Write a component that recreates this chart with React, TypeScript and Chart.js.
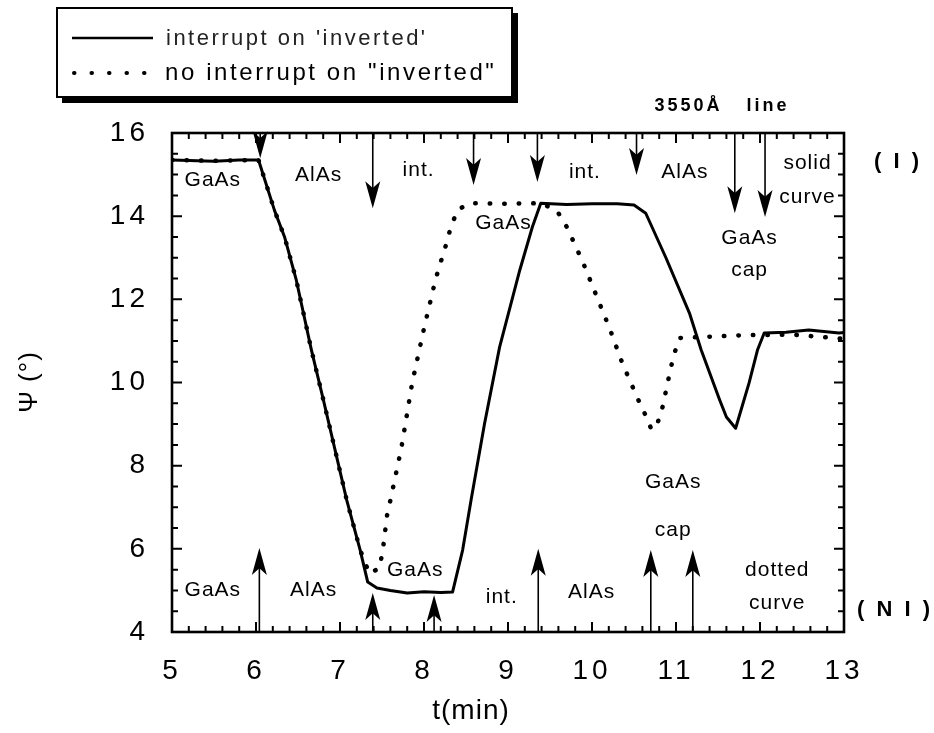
import React, { useEffect, useRef } from "react";
import { Chart, registerables } from "chart.js";

Chart.register(...registerables);

const FONT = '"Liberation Sans", Arial, Helvetica, sans-serif';

// Ellipsometric angle Ψ vs growth time, with interruption on the inverted interface
const solidT = [5.0, 5.5, 5.8, 6.03, 6.22, 6.34, 6.48, 6.66, 6.8, 6.95, 7.08, 7.24, 7.33, 7.44, 7.6, 7.8, 8.0, 8.2, 8.34, 8.46, 8.56, 8.72, 8.9, 9.14, 9.29, 9.39, 9.7, 10.0, 10.3, 10.5, 10.64, 10.88, 11.16, 11.3, 11.52, 11.6, 11.71, 11.87, 11.97, 12.05, 12.31, 12.58, 12.94, 13.0];
const solidPsi = [15.35, 15.32, 15.35, 15.35, 14.14, 13.5, 12.46, 10.78, 9.6, 8.3, 7.17, 5.97, 5.2, 5.06, 5.0, 4.94, 4.97, 4.95, 4.96, 5.97, 7.17, 9.0, 10.85, 12.7, 13.74, 14.31, 14.28, 14.3, 14.3, 14.27, 14.07, 13.0, 11.67, 10.78, 9.58, 9.17, 8.9, 9.99, 10.78, 11.19, 11.21, 11.26, 11.19, 11.2];

// Same sequence without interruption on the inverted interface
const dottedT = [5.0, 5.5, 6.03, 6.22, 6.34, 6.48, 6.66, 6.8, 6.95, 7.08, 7.24, 7.35, 7.47, 7.51, 7.56, 7.6, 7.73, 7.86, 8.0, 8.14, 8.26, 8.32, 8.4, 8.54, 9.0, 9.39, 9.58, 9.7, 9.89, 10.05, 10.21, 10.36, 10.54, 10.64, 10.71, 10.78, 10.84, 10.92, 10.97, 11.04, 11.4, 11.83, 12.4, 13.0];
const dottedPsi = [15.35, 15.33, 15.35, 14.14, 13.5, 12.46, 10.78, 9.6, 8.3, 7.17, 5.97, 5.4, 5.54, 5.97, 6.8, 7.17, 8.42, 10.0, 11.3, 12.5, 13.3, 13.74, 14.15, 14.31, 14.3, 14.31, 14.14, 13.74, 12.9, 12.1, 11.3, 10.47, 9.63, 9.2, 8.86, 9.02, 9.41, 10.18, 10.63, 11.07, 11.1, 11.14, 11.15, 11.05];

// Shutter events: arrows from the top frame (interrupted run) and bottom frame (uninterrupted run)
const topArrowT = [6.05, 7.39, 8.59, 9.35, 10.53, 11.7, 12.06];
const topArrowTip = [15.39, 14.19, 14.75, 14.82, 14.99, 14.07, 13.98];
const bottomArrowT = [6.04, 7.39, 8.12, 9.36, 10.7, 11.2];
const bottomArrowTip = [6.02, 4.94, 4.89, 6.0, 5.97, 5.97];

// Layer labels placed in data coordinates
const labelText = ["GaAs", "AlAs", "int.", "GaAs", "int.", "AlAs", "solid", "curve", "GaAs", "cap", "GaAs", "AlAs", "GaAs", "int.", "AlAs", "GaAs", "cap", "dotted", "curve"];
const labelT = [5.48, 6.74, 7.93, 8.94, 9.91, 11.1, 12.56, 12.56, 11.87, 11.87, 5.48, 6.68, 7.89, 8.92, 9.99, 10.96, 10.96, 12.2, 12.2];
const labelPsi = [14.87, 14.99, 15.11, 13.83, 15.06, 15.06, 15.27, 14.46, 13.47, 12.7, 5.0, 5.0, 5.49, 4.84, 4.96, 7.6, 6.45, 5.49, 4.7];

const xTicks = [5, 6, 7, 8, 9, 10, 11, 12, 13];
const yTicks = [4, 6, 8, 10, 12, 14, 16];

const legendLabels = ["interrupt on 'inverted'", 'no interrupt on "inverted"'];

function arrow(ctx: CanvasRenderingContext2D, x: number, from: number, tip: number) {
  const dir = tip > from ? 1 : -1;
  const headH = 27;
  const headW = 15;
  ctx.beginPath();
  ctx.moveTo(x, from);
  ctx.lineTo(x, tip - dir * headH * 0.6);
  ctx.lineWidth = 1.6;
  ctx.stroke();
  ctx.beginPath();
  ctx.moveTo(x, tip);
  ctx.lineTo(x - headW / 2, tip - dir * headH);
  ctx.lineTo(x, tip - dir * headH * 0.75);
  ctx.lineTo(x + headW / 2, tip - dir * headH);
  ctx.closePath();
  ctx.fill();
}

const spacedTicks = {
  id: "spacedTicks",
  beforeDraw(chart: any) {
    (chart.ctx as any).letterSpacing = "4px";
  },
};

const decorations = {
  id: "decorations",
  afterDraw(chart: any) {
    const ctx: CanvasRenderingContext2D = chart.ctx;
    const xs = chart.scales.x;
    const ys = chart.scales.y;
    const { left, right, top, bottom } = chart.chartArea;
    ctx.save();
    (ctx as any).letterSpacing = "0px";
    ctx.strokeStyle = "#000";
    ctx.fillStyle = "#000";
    ctx.lineCap = "butt";

    // frame
    ctx.lineWidth = 2.6;
    ctx.strokeRect(left, top, right - left, bottom - top);

    // inward ticks on all four sides
    ctx.lineWidth = 2;
    for (let i = 0; i <= 40; i++) {
      const v = 5 + i * 0.2;
      const px = xs.getPixelForValue(v);
      const len = i % 5 === 0 ? 10 : 6;
      ctx.beginPath();
      ctx.moveTo(px, bottom);
      ctx.lineTo(px, bottom - len);
      ctx.moveTo(px, top);
      ctx.lineTo(px, top + len);
      ctx.stroke();
    }
    for (let i = 0; i <= 24; i++) {
      const v = 4 + i * 0.5;
      const py = ys.getPixelForValue(v);
      const len = i % 4 === 0 ? 10 : 6;
      ctx.beginPath();
      ctx.moveTo(left, py);
      ctx.lineTo(left + len, py);
      ctx.moveTo(right, py);
      ctx.lineTo(right - len, py);
      ctx.stroke();
    }

    // event arrows
    topArrowT.forEach((t, i) => arrow(ctx, xs.getPixelForValue(t), top, ys.getPixelForValue(topArrowTip[i])));
    bottomArrowT.forEach((t, i) => arrow(ctx, xs.getPixelForValue(t), bottom, ys.getPixelForValue(bottomArrowTip[i])));

    // layer labels
    ctx.font = `21px ${FONT}`;
    (ctx as any).letterSpacing = "1px";
    ctx.textAlign = "center";
    ctx.textBaseline = "middle";
    labelText.forEach((s, i) => {
      ctx.fillText(s, xs.getPixelForValue(labelT[i]) + 0.5, ys.getPixelForValue(labelPsi[i]));
    });

    // run markers at the right
    ctx.font = `bold 22px ${FONT}`;
    (ctx as any).letterSpacing = "3px";
    ctx.textAlign = "left";
    ctx.fillText("( I )", right + 30, ys.getPixelForValue(15.3));
    ctx.fillText("( N I )", right + 13, ys.getPixelForValue(4.53));

    // spectral line note
    ctx.font = `bold 18px ${FONT}`;
    (ctx as any).letterSpacing = "3px";
    ctx.textAlign = "center";
    ctx.fillText("3550Å   line", 722, 106);

    // axis titles
    (ctx as any).letterSpacing = "1px";
    ctx.font = `28px ${FONT}`;
    ctx.fillText("t(min)", 471, 711);
    ctx.save();
    ctx.translate(30, 382);
    ctx.rotate(-Math.PI / 2);
    ctx.font = `26px ${FONT}`;
    ctx.fillText("Ψ (°)", 0, 0);
    ctx.restore();

    // legend box with drop shadow
    (ctx as any).letterSpacing = "0px";
    ctx.fillStyle = "#000";
    ctx.fillRect(62, 13, 456, 90);
    ctx.fillStyle = "#fff";
    ctx.fillRect(57, 8, 455, 89);
    ctx.lineWidth = 2;
    ctx.strokeRect(57, 8, 455, 89);
    ctx.fillStyle = "#000";
    ctx.beginPath();
    ctx.moveTo(72, 38);
    ctx.lineTo(153, 38);
    ctx.lineWidth = 2.5;
    ctx.stroke();
    ctx.beginPath();
    ctx.moveTo(74, 73);
    ctx.lineTo(146, 73);
    ctx.lineWidth = 4;
    ctx.lineCap = "round";
    ctx.setLineDash([0.5, 17]);
    ctx.stroke();
    ctx.setLineDash([]);
    ctx.textAlign = "left";
    ctx.font = `22px ${FONT}`;
    (ctx as any).letterSpacing = "2.5px";
    ctx.fillStyle = "#222";
    ctx.fillText(legendLabels[0], 166, 39);
    ctx.fillStyle = "#000";
    ctx.font = `24px ${FONT}`;
    (ctx as any).letterSpacing = "2.6px";
    ctx.fillText(legendLabels[1], 165, 73);
    ctx.restore();
  },
};

export default function App() {
  const ref = useRef<HTMLCanvasElement>(null);
  useEffect(() => {
    document.body.style.margin = "0";
    const chart = new Chart(ref.current!, {
      type: "line",
      data: {
        datasets: [
          {
            label: legendLabels[0],
            data: solidT.map((t, i) => ({ x: t, y: solidPsi[i] })),
            borderColor: "#000",
            borderWidth: 3,
            pointRadius: 0,
            tension: 0,
            borderJoinStyle: "round",
          },
          {
            label: legendLabels[1],
            data: dottedT.map((t, i) => ({ x: t, y: dottedPsi[i] })),
            borderColor: "#000",
            borderWidth: 4.5,
            borderDash: [0.5, 14],
            borderCapStyle: "round",
            pointRadius: 0,
            tension: 0,
          },
        ],
      },
      options: {
        responsive: false,
        animation: false,
        layout: { padding: { left: 0, right: 90, top: 133, bottom: 0 } },
        plugins: { legend: { display: false }, tooltip: { enabled: false } },
        scales: {
          x: {
            type: "linear",
            min: 5,
            max: 13,
            afterBuildTicks: (s: any) => {
              s.ticks = xTicks.map((v) => ({ value: v }));
            },
            ticks: { font: { family: FONT, size: 28 }, color: "#000", padding: 22, maxRotation: 0 },
            grid: { display: false, drawTicks: false },
            border: { display: false },
            afterFit: (s: any) => {
              s.height = 101;
            },
          },
          y: {
            type: "linear",
            min: 4,
            max: 16,
            afterBuildTicks: (s: any) => {
              s.ticks = yTicks.map((v) => ({ value: v }));
            },
            ticks: { font: { family: FONT, size: 28 }, color: "#000", padding: 23 },
            grid: { display: false, drawTicks: false },
            border: { display: false },
            afterFit: (s: any) => {
              s.width = 172;
            },
          },
        },
      },
      plugins: [spacedTicks, decorations],
    });
    return () => chart.destroy();
  }, []);
  return <canvas ref={ref} width={934} height={733} style={{ display: "block" }} />;
}
